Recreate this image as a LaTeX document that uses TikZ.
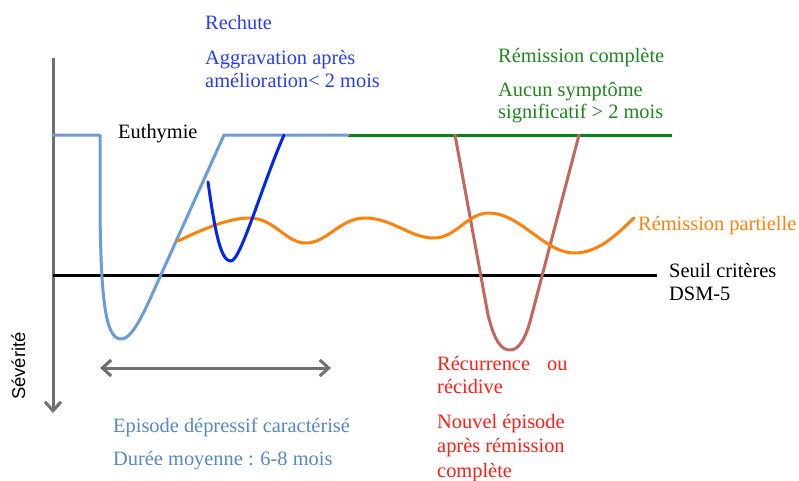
\documentclass[tikz,border=0pt]{standalone}
\usepackage{fontspec}
\setmainfont{Liberation Serif}
\setsansfont{Liberation Sans}
\usetikzlibrary{arrows.meta}
\definecolor{EpisodeColor}{RGB}{106,157,216}
\definecolor{EpisodeText}{RGB}{86,134,204}
\definecolor{RechuteColor}{RGB}{0,36,245}
\definecolor{RechuteText}{RGB}{40,60,250}
\definecolor{RemissionColor}{RGB}{0,138,20}
\definecolor{RemissionText}{RGB}{30,135,30}
\definecolor{PartielleColor}{RGB}{255,128,10}
\definecolor{RecurColor}{RGB}{196,102,92}
\definecolor{RecurText}{RGB}{255,30,20}
\definecolor{AxisGray}{RGB}{112,112,112}
\newcommand{\YEuthymie}{135}
\newcommand{\YSeuil}{275}
\newcommand{\XAxis}{53}

\begin{document}
\begin{tikzpicture}[
  x=1pt,y=-1pt,
  curve/.style={line width=3pt,line cap=round,line join=round},
  txt/.style={font=\fontsize{20.4}{23}\selectfont,anchor=base west,inner sep=0pt,align=left},
  greyarrow/.style={draw=AxisGray,line width=3pt,-{Straight Barb[length=9pt,width=16pt]}}
]
\useasboundingbox (0,0) rectangle (799,480);

% Axis
\coordinate (ytop) at (\XAxis,58);
\coordinate (ybot) at (\XAxis,413);
\draw[greyarrow] (ytop) -- (ybot);
\node[font=\sffamily\fontsize{18.5}{20}\selectfont,rotate=90,anchor=base,inner sep=0pt] (severite) at (25,366) {Sévérité};

% Threshold
\draw[curve,black,line cap=butt] (\XAxis,\YSeuil) -- (657,\YSeuil);

% Remission complete
\draw[curve,RemissionColor,line cap=butt] (348,\YEuthymie) -- (672,\YEuthymie);

% Recurrence
\draw[curve,RecurColor] (455,\YEuthymie) -- (488,315) .. controls (495,343) and (502,350) .. (510,350)
  .. controls (518,350) and (525,341) .. (531,318) -- (579,\YEuthymie);

% Episode
\draw[curve,EpisodeColor] (\XAxis,\YEuthymie) -- (100,\YEuthymie) -- (100,210)
  .. controls (101,310) and (107,340) .. (122,339)
  .. controls (133,338) and (145,310) .. (155,288) -- (224,\YEuthymie) -- (348,\YEuthymie);

% Partial remission
\draw[curve,PartielleColor] (178,241) .. controls (205,228) and (230,218) .. (249,218)
  .. controls (275,218) and (285,243) .. (306,243)
  .. controls (327,243) and (340,218) .. (365,218)
  .. controls (392,218) and (410,238) .. (434,238)
  .. controls (456,238) and (467,213) .. (489,213)
  .. controls (520,213) and (545,253) .. (574,253)
  .. controls (598,253) and (615,236) .. (634,218);

% Relapse
\draw[curve,RechuteColor] (208,182) .. controls (215,232) and (221,262) .. (231,261)
  .. controls (241,260) and (262,185) .. (284,\YEuthymie);

% Duration arrow
\coordinate (dstart) at (100,368);
\coordinate (dend) at (331,368);
\draw[greyarrow,{Straight Barb[length=9pt,width=16pt]}-{Straight Barb[length=9pt,width=16pt]}] (dstart) -- (dend);

% Labels (base of a multi-line node = last line)
\node[txt] (euth) at (118,138) {Euthymie};
\node[txt,text=RechuteText] (rechute) at (205,29) {Rechute};
\node[txt,text=RechuteText] (aggr) at (205,87) {Aggravation après\\amélioration< 2 mois};
\node[txt,text=RemissionText] (remc) at (498,62) {Rémission complète};
\node[txt,text=RemissionText,font=\fontsize{20.4}{21.7}\selectfont] (aucun) at (498,118) {Aucun symptôme\\significatif > 2 mois};
\node[txt,text=PartielleColor] (rempart) at (638,230) {Rémission partielle};
\node[txt] (seuil) at (669,300) {Seuil critères\\DSM-5};
\node[txt,text=RecurText] (recur) at (437,393) {Récurrence\hspace{17pt}ou\\récidive};
\node[txt,text=RecurText,font=\fontsize{20.4}{24.5}\selectfont] (nouvel) at (437,477) {Nouvel épisode\\après rémission\\complète};
\node[txt,text=EpisodeText] (episode) at (113,432) {Episode dépressif caractérisé};
\node[txt,text=EpisodeText] (duree) at (113,465) {Durée moyenne : 6-8 mois};

\end{tikzpicture}
\end{document}
